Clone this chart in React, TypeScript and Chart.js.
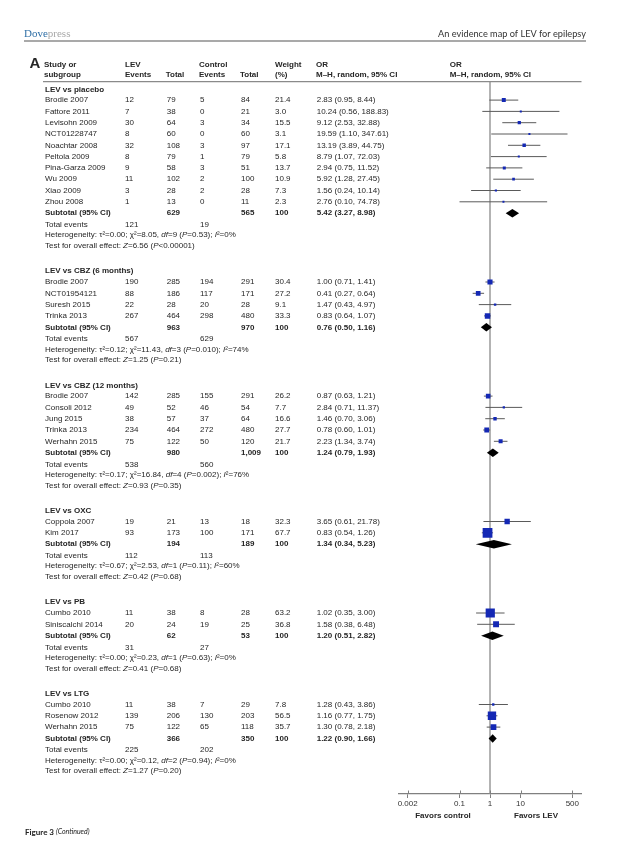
import React, { useEffect, useRef } from 'react';
import { Chart, registerables } from 'chart.js';

Chart.register(...registerables);

// ---------------- DATA ----------------
const groupNames = ['LEV vs placebo', 'LEV vs CBZ (6 months)', 'LEV vs CBZ (12 months)', 'LEV vs OXC', 'LEV vs PB', 'LEV vs LTG'];
const studyGroup = [0, 0, 0, 0, 0, 0, 0, 0, 0, 0, 1, 1, 1, 1, 2, 2, 2, 2, 2, 3, 3, 4, 4, 5, 5, 5];
const studyNames = [
  'Brodie 2007', 'Fattore 2011', 'Levisohn 2009', 'NCT01228747', 'Noachtar 2008', 'Peltola 2009', 'Pina-Garza 2009', 'Wu 2009', 'Xiao 2009', 'Zhou 2008',
  'Brodie 2007', 'NCT01954121', 'Suresh 2015', 'Trinka 2013',
  'Brodie 2007', 'Consoli 2012', 'Jung 2015', 'Trinka 2013', 'Werhahn 2015',
  'Coppola 2007', 'Kim 2017',
  'Cumbo 2010', 'Siniscalchi 2014',
  'Cumbo 2010', 'Rosenow 2012', 'Werhahn 2015',
];
const levEvents = [12, 7, 30, 8, 32, 8, 9, 11, 3, 1, 190, 88, 22, 267, 142, 49, 38, 234, 75, 19, 93, 11, 20, 11, 139, 75];
const levTotals = [79, 38, 64, 60, 108, 79, 58, 102, 28, 13, 285, 186, 28, 464, 285, 52, 57, 464, 122, 21, 173, 38, 24, 38, 206, 122];
const ctrlEvents = [5, 0, 3, 0, 3, 1, 3, 2, 2, 0, 194, 117, 20, 298, 155, 46, 37, 272, 50, 13, 100, 8, 19, 7, 130, 65];
const ctrlTotals = [84, 21, 34, 60, 97, 79, 51, 100, 28, 11, 291, 171, 28, 480, 291, 54, 64, 480, 120, 18, 171, 28, 25, 29, 203, 118];
const weights = [21.4, 3.0, 15.5, 3.1, 17.1, 5.8, 13.7, 10.9, 7.3, 2.3, 30.4, 27.2, 9.1, 33.3, 26.2, 7.7, 16.6, 27.7, 21.7, 32.3, 67.7, 63.2, 36.8, 7.8, 56.5, 35.7];
const oddsRatios = [2.83, 10.24, 9.12, 19.59, 13.19, 8.79, 2.94, 5.92, 1.56, 2.76, 1.0, 0.41, 1.47, 0.83, 0.87, 2.84, 1.46, 0.78, 2.23, 3.65, 0.83, 1.02, 1.58, 1.28, 1.16, 1.3];
const ciLow = [0.95, 0.56, 2.53, 1.1, 3.89, 1.07, 0.75, 1.28, 0.24, 0.1, 0.71, 0.27, 0.43, 0.64, 0.63, 0.71, 0.7, 0.6, 1.34, 0.61, 0.54, 0.35, 0.38, 0.43, 0.77, 0.78];
const ciHigh = [8.44, 188.83, 32.88, 347.61, 44.75, 72.03, 11.52, 27.45, 10.14, 74.78, 1.41, 0.64, 4.97, 1.07, 1.21, 11.37, 3.06, 1.01, 3.74, 21.78, 1.26, 3.0, 6.48, 3.86, 1.75, 2.18];

const subLevTotals = ['629', '963', '980', '194', '62', '366'];
const subCtrlTotals = ['565', '970', '1,009', '189', '53', '350'];
const subOR = [5.42, 0.76, 1.24, 1.34, 1.2, 1.22];
const subLow = [3.27, 0.5, 0.79, 0.34, 0.51, 0.9];
const subHigh = [8.98, 1.16, 1.93, 5.23, 2.82, 1.66];
const totalLevEvents = ['121', '567', '538', '112', '31', '225'];
const totalCtrlEvents = ['19', '629', '560', '113', '27', '202'];
const tau2 = ['0.00', '0.12', '0.17', '0.67', '0.00', '0.00'];
const chi2 = ['8.05', '11.43', '16.84', '2.53', '0.23', '0.12'];
const hetDf = ['9', '3', '4', '1', '1', '2'];
const hetP = ['0.53', '0.010', '0.002', '0.11', '0.63', '0.94'];
const i2 = ['0%', '74%', '76%', '60%', '0%', '0%'];
const zValues = ['6.56', '1.25', '0.93', '0.42', '0.41', '1.27'];
const zP = ['<0.00001', '=0.21', '=0.35', '=0.68', '=0.68', '=0.20'];
const xTicks = [0.002, 0.1, 1, 10, 500];
const xTickLabels = ['0.002', '0.1', '1', '10', '500'];

// ---------------- LAYOUT / STYLE ----------------
const FONT = '"Liberation Sans", Arial, sans-serif';
const TXT = '#262626';
const GAP = { first: 7.6, headToStudy: 10.8, study: 11.3, toSub: 11.4, toTotal: 11.7, toHet: 10.3, toTest: 10.7, toNext: 25.3 };
const COL = { name: 45, levEv: 125, levTot: 166.7, ctrlEv: 200, ctrlTot: 241, weight: 275, or: 316.7, or2: 449.7 };

type Row = { kind: string; g: number; i: number; y: number };

function buildRows(): Row[] {
  const rows: Row[] = [];
  let y = GAP.first;
  groupNames.forEach((_, g) => {
    if (g > 0) y += GAP.toNext;
    rows.push({ kind: 'head', g, i: -1, y });
    const idx = studyGroup.map((gg, i) => (gg === g ? i : -1)).filter((i) => i >= 0);
    idx.forEach((i, k) => {
      y += k === 0 ? GAP.headToStudy : GAP.study;
      rows.push({ kind: 'study', g, i, y });
    });
    y += GAP.toSub;
    rows.push({ kind: 'sub', g, i: -1, y });
    y += GAP.toTotal;
    rows.push({ kind: 'total', g, i: -1, y });
    y += GAP.toHet;
    rows.push({ kind: 'het', g, i: -1, y });
    y += GAP.toTest;
    rows.push({ kind: 'test', g, i: -1, y });
  });
  return rows;
}

const fmtOR = (o: number, l: number, h: number) => `${o.toFixed(2)} (${l.toFixed(2)}, ${h.toFixed(2)})`;
const boxSide = (w: number) => Math.max(2, 1.3 + 0.125 * w);

function drawRich(ctx: CanvasRenderingContext2D, segs: [string, boolean][], x: number, y: number, size: number) {
  let cx = x;
  for (const [t, it] of segs) {
    ctx.font = `${it ? 'italic ' : ''}${size}px ${FONT}`;
    ctx.fillText(t, cx, y);
    cx += ctx.measureText(t).width;
  }
}

export default function App() {
  const ref = useRef<HTMLCanvasElement | null>(null);

  useEffect(() => {
    document.body.style.margin = '0';
    document.body.style.overflow = 'hidden';
    const canvas = ref.current;
    if (!canvas) return;
    const rows = buildRows();
    const studyRows = rows.filter((r) => r.kind === 'study');
    const subRows = rows.filter((r) => r.kind === 'sub');

    const forestPlugin = {
      id: 'forest',
      beforeDatasetsDraw(chart: any) {
        const { ctx, chartArea } = chart;
        const xs = chart.scales.x;
        const ys = chart.scales.y;
        ctx.save();
        // line of no effect
        ctx.strokeStyle = '#8a8a8a';
        ctx.lineWidth = 1.3;
        const x1 = xs.getPixelForValue(1);
        ctx.beginPath();
        ctx.moveTo(x1, chartArea.top);
        ctx.lineTo(x1, chartArea.bottom);
        ctx.stroke();
        // whiskers
        ctx.strokeStyle = '#5a5a5a';
        ctx.lineWidth = 1;
        studyRows.forEach((r) => {
          const y = ys.getPixelForValue(r.y);
          ctx.beginPath();
          ctx.moveTo(xs.getPixelForValue(ciLow[r.i]), y);
          ctx.lineTo(xs.getPixelForValue(ciHigh[r.i]), y);
          ctx.stroke();
        });
        ctx.restore();
      },
      afterDatasetsDraw(chart: any) {
        const { ctx } = chart;
        const xs = chart.scales.x;
        const ys = chart.scales.y;
        ctx.save();
        ctx.fillStyle = '#000';
        subRows.forEach((r) => {
          const y = ys.getPixelForValue(r.y);
          ctx.beginPath();
          ctx.moveTo(xs.getPixelForValue(subLow[r.g]), y);
          ctx.lineTo(xs.getPixelForValue(subOR[r.g]), y - 4.2);
          ctx.lineTo(xs.getPixelForValue(subHigh[r.g]), y);
          ctx.lineTo(xs.getPixelForValue(subOR[r.g]), y + 4.2);
          ctx.closePath();
          ctx.fill();
        });
        ctx.restore();
      },
      afterDraw(chart: any) {
        const { ctx, chartArea } = chart;
        const xs = chart.scales.x;
        const ys = chart.scales.y;
        ctx.save();
        // tick marks above axis
        ctx.strokeStyle = '#808080';
        ctx.lineWidth = 1;
        xTicks.forEach((v) => {
          const x = Math.round(xs.getPixelForValue(v)) + 0.5;
          ctx.beginPath();
          ctx.moveTo(x, chartArea.bottom - 3.5);
          ctx.lineTo(x, chartArea.bottom);
          ctx.stroke();
        });
        // journal header
        ctx.textBaseline = 'middle';
        ctx.textAlign = 'left';
        ctx.font = '11px "Liberation Serif", serif';
        ctx.fillStyle = '#2f6fa6';
        ctx.fillText('Dove', 24, 34);
        const dw = ctx.measureText('Dove').width;
        ctx.fillStyle = '#a8a8a8';
        ctx.fillText('press', 24 + dw, 34);
        ctx.font = '9.2px Lato, "Open Sans", sans-serif';
        ctx.fillStyle = '#333';
        ctx.textAlign = 'right';
        ctx.fillText('An evidence map of LEV for epilepsy', 586, 34);
        ctx.textAlign = 'left';
        ctx.strokeStyle = '#8c8c8c';
        ctx.lineWidth = 1.4;
        ctx.beginPath();
        ctx.moveTo(24, 41);
        ctx.lineTo(586, 41);
        ctx.stroke();
        // table header rule
        ctx.strokeStyle = '#8a8a8a';
        ctx.lineWidth = 1.2;
        ctx.beginPath();
        ctx.moveTo(43, chartArea.top);
        ctx.lineTo(chartArea.right, chartArea.top);
        ctx.stroke();
        // column headers
        ctx.fillStyle = TXT;
        ctx.font = `bold 15px ${FONT}`;
        ctx.fillText('A', 29.5, 64);
        ctx.font = `bold 8px ${FONT}`;
        const h1 = 64.3;
        const h2 = 74.3;
        ctx.fillText('Study or', COL.name - 1, h1);
        ctx.fillText('subgroup', COL.name - 1, h2);
        ctx.fillText('LEV', COL.levEv, h1);
        ctx.fillText('Events', COL.levEv, h2);
        ctx.fillText('Total', COL.levTot - 1, h2);
        ctx.fillText('Control', COL.ctrlEv - 1, h1);
        ctx.fillText('Events', COL.ctrlEv - 1, h2);
        ctx.fillText('Total', COL.ctrlTot - 1, h2);
        ctx.fillText('Weight', COL.weight, h1);
        ctx.fillText('(%)', COL.weight, h2);
        ctx.fillText('OR', COL.or - 0.7, h1);
        ctx.fillText('M\u2013H, random, 95% CI', COL.or - 0.7, h2);
        ctx.fillText('OR', COL.or2, h1);
        ctx.fillText('M\u2013H, random, 95% CI', COL.or2, h2);

        // table rows
        rows.forEach((r) => {
          const y = ys.getPixelForValue(r.y);
          const g = r.g;
          if (r.kind === 'head') {
            ctx.font = `bold 8px ${FONT}`;
            ctx.fillText(groupNames[g], COL.name, y);
          } else if (r.kind === 'study') {
            const i = r.i;
            ctx.font = `8px ${FONT}`;
            ctx.fillText(studyNames[i], COL.name, y);
            ctx.fillText(String(levEvents[i]), COL.levEv, y);
            ctx.fillText(String(levTotals[i]), COL.levTot, y);
            ctx.fillText(String(ctrlEvents[i]), COL.ctrlEv, y);
            ctx.fillText(String(ctrlTotals[i]), COL.ctrlTot, y);
            ctx.fillText(weights[i].toFixed(1), COL.weight, y);
            ctx.fillText(fmtOR(oddsRatios[i], ciLow[i], ciHigh[i]), COL.or, y);
          } else if (r.kind === 'sub') {
            ctx.font = `bold 8px ${FONT}`;
            ctx.fillText('Subtotal (95% CI)', COL.name, y);
            ctx.fillText(subLevTotals[g], COL.levTot, y);
            ctx.fillText(subCtrlTotals[g], COL.ctrlTot, y);
            ctx.fillText('100', COL.weight, y);
            ctx.fillText(fmtOR(subOR[g], subLow[g], subHigh[g]), COL.or, y);
          } else if (r.kind === 'total') {
            ctx.font = `8px ${FONT}`;
            ctx.fillText('Total events', COL.name, y);
            ctx.fillText(totalLevEvents[g], COL.levEv, y);
            ctx.fillText(totalCtrlEvents[g], COL.ctrlEv, y);
          } else if (r.kind === 'het') {
            drawRich(ctx, [
              [`Heterogeneity: \u03c4\u00b2=${tau2[g]}; \u03c7\u00b2=${chi2[g]}, `, false],
              ['df', true],
              [`=${hetDf[g]} (`, false],
              ['P', true],
              [`=${hetP[g]}); `, false],
              ['I', true],
              [`\u00b2=${i2[g]}`, false],
            ], COL.name, y, 8);
          } else if (r.kind === 'test') {
            drawRich(ctx, [
              ['Test for overall effect: ', false],
              ['Z', true],
              [`=${zValues[g]} (`, false],
              ['P', true],
              [`${zP[g]})`, false],
            ], COL.name, y, 8);
          }
        });

        // favours labels
        ctx.font = `bold 8px ${FONT}`;
        ctx.textAlign = 'center';
        ctx.fillText('Favors control', 443, 816);
        ctx.fillText('Favors LEV', 536, 816);
        // figure caption
        ctx.textAlign = 'left';
        ctx.font = 'bold 8px Lato, sans-serif';
        ctx.fillStyle = '#222';
        ctx.fillText('Figure 3', 25, 832);
        const fw = ctx.measureText('Figure 3 ').width;
        ctx.font = 'italic 7px Lato, sans-serif';
        ctx.fillText('(Continued)', 25 + fw, 832);
        ctx.restore();
      },
    };

    const chart = new Chart(canvas, {
      type: 'scatter',
      data: {
        datasets: [
          {
            data: studyRows.map((r) => ({ x: oddsRatios[r.i], y: r.y })),
            pointStyle: 'rect',
            pointRadius: studyRows.map((r) => boxSide(weights[r.i]) / Math.SQRT2),
            pointHoverRadius: studyRows.map((r) => boxSide(weights[r.i]) / Math.SQRT2),
            backgroundColor: '#1428b4',
            borderColor: '#1428b4',
            borderWidth: 0,
          },
        ],
      },
      options: {
        responsive: false,
        animation: false,
        devicePixelRatio: 1,
        events: [],
        layout: { padding: { left: 398.5, right: 55.5, top: 81.7, bottom: 36 } },
        plugins: { legend: { display: false }, tooltip: { enabled: false }, title: { display: false } },
        scales: {
          x: {
            type: 'logarithmic',
            min: 0.001,
            max: 1000,
            afterBuildTicks: (axis: any) => {
              axis.ticks = xTicks.map((v) => ({ value: v }));
            },
            afterFit: (s: any) => {
              s.height = 20;
            },
            grid: { drawOnChartArea: false, drawTicks: true, tickLength: 4, color: '#808080', lineWidth: 1 },
            border: { display: true, color: '#808080', width: 1.3 },
            ticks: {
              autoSkip: false,
              maxRotation: 0,
              minRotation: 0,
              padding: 1,
              color: '#333',
              font: { family: FONT, size: 8 },
              callback: (_v: any, idx: number) => xTickLabels[idx],
            },
          },
          y: { type: 'linear', display: false, reverse: true, min: 0, max: 712.3 },
        },
      },
      plugins: [forestPlugin],
    } as any);

    return () => chart.destroy();
  }, []);

  return <canvas ref={ref} width={637} height={850} style={{ display: 'block' }} />;
}
